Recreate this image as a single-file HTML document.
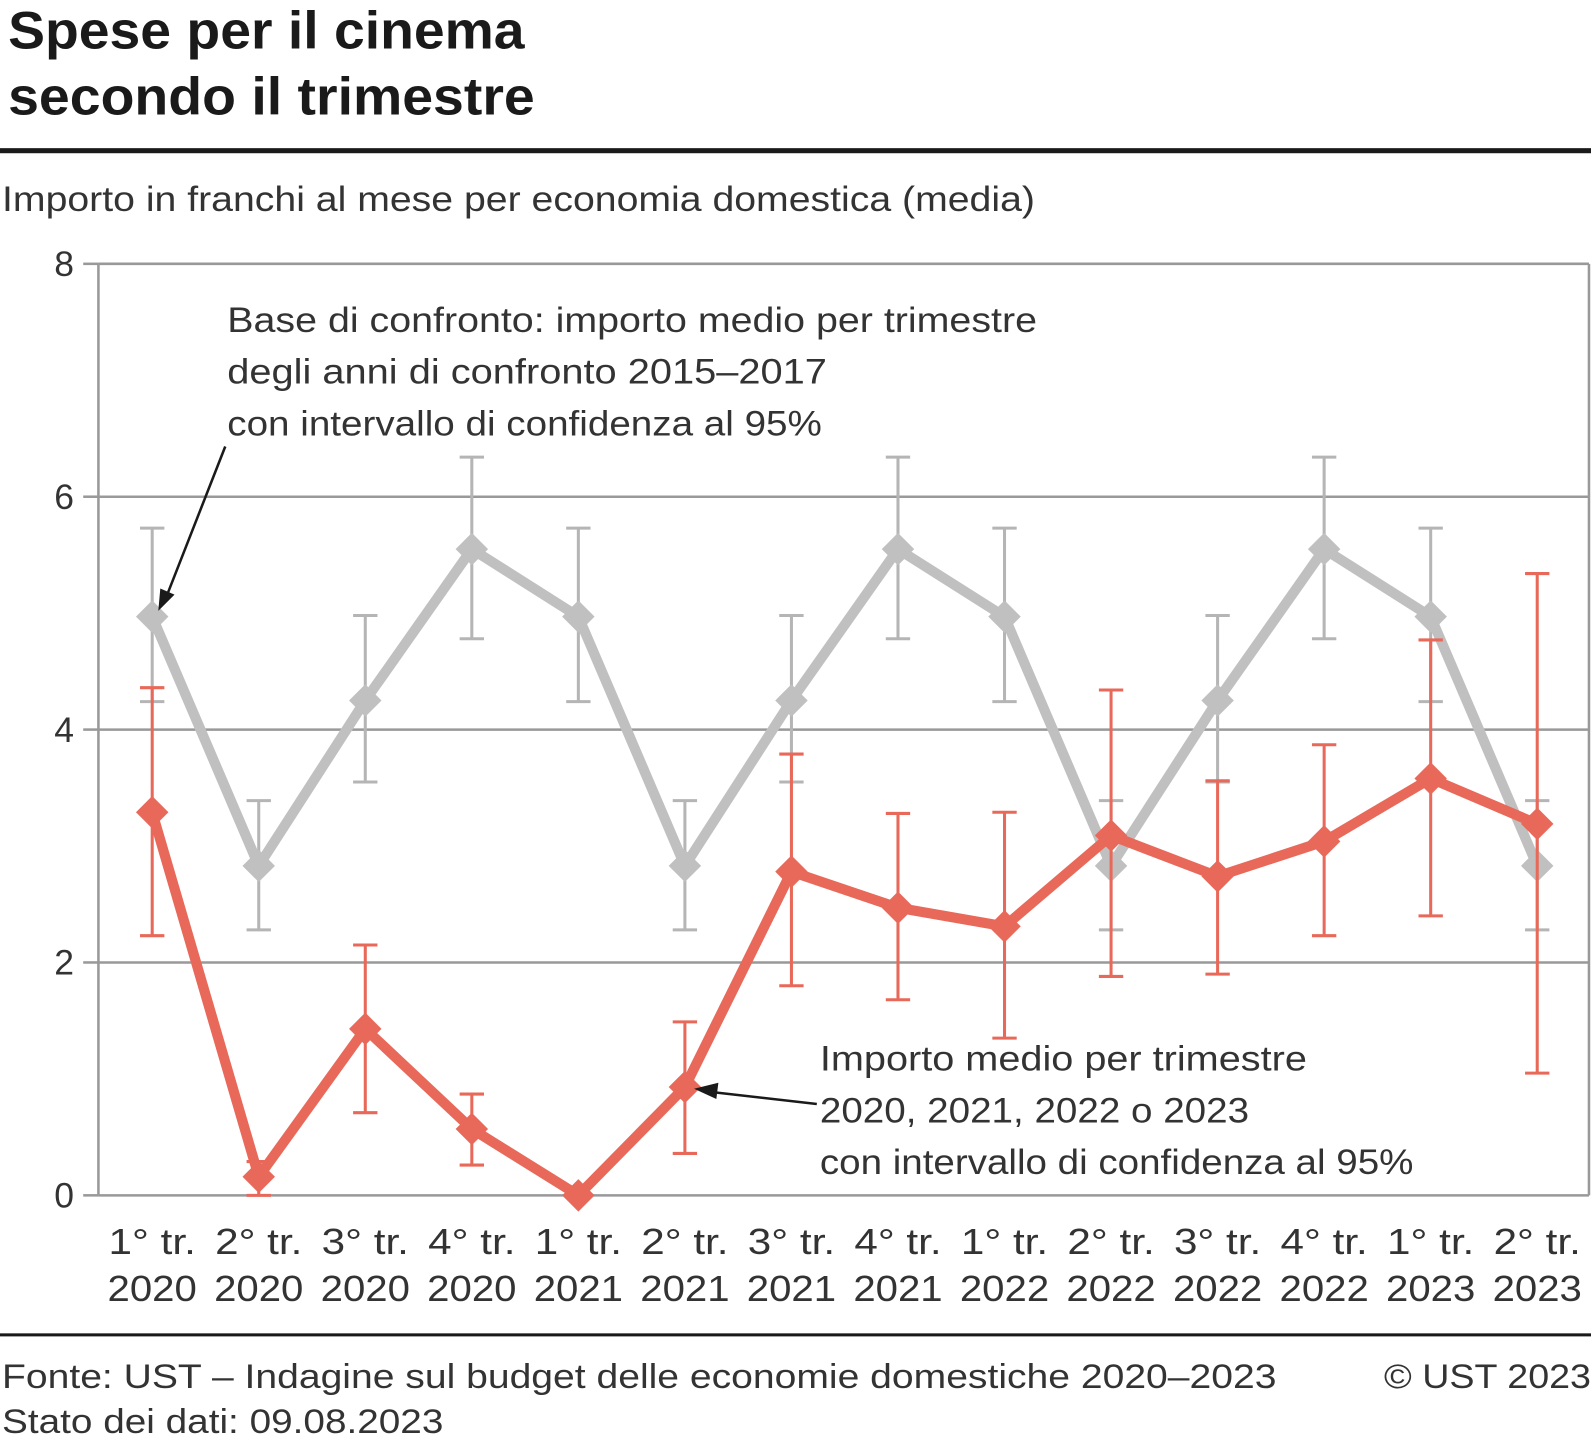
<!DOCTYPE html>
<html><head><meta charset="utf-8">
<style>
html,body{margin:0;padding:0;background:#fff;}
body{width:1591px;height:1447px;overflow:hidden;font-family:"Liberation Sans",sans-serif;}
svg text{font-family:"Liberation Sans",sans-serif;}
</style></head>
<body>
<svg id="chart" width="1591" height="1447" viewBox="0 0 1568 1426" preserveAspectRatio="none" xmlns="http://www.w3.org/2000/svg">
<text x="8" y="48" font-size="52" font-weight="bold" fill="#1a1a1a" textLength="509" lengthAdjust="spacingAndGlyphs">Spese per il cinema</text>
<text x="8" y="113" font-size="52" font-weight="bold" fill="#1a1a1a" textLength="519" lengthAdjust="spacingAndGlyphs">secondo il trimestre</text>
<rect x="0" y="146" width="1568" height="5" fill="#1a1a1a"/>
<text x="2" y="208" font-size="35" fill="#333" textLength="1018" lengthAdjust="spacingAndGlyphs">Importo in franchi al mese per economia domestica (media)</text>
<g id="grid"></g>
<g id="marks"></g>
<g id="annot">
<text font-size="35" fill="#333"><tspan x="224" y="327" textLength="798" lengthAdjust="spacingAndGlyphs">Base di confronto: importo medio per trimestre</tspan><tspan x="224" y="378" textLength="591" lengthAdjust="spacingAndGlyphs">degli anni di confronto 2015–2017</tspan><tspan x="224" y="429" textLength="586" lengthAdjust="spacingAndGlyphs">con intervallo di confidenza al 95%</tspan></text>
<text font-size="35" fill="#333"><tspan x="808" y="1055" textLength="480" lengthAdjust="spacingAndGlyphs">Importo medio per trimestre</tspan><tspan x="808" y="1106" textLength="423" lengthAdjust="spacingAndGlyphs">2020, 2021, 2022 o 2023</tspan><tspan x="808" y="1157" textLength="585" lengthAdjust="spacingAndGlyphs">con intervallo di confidenza al 95%</tspan></text>
<line x1="222" y1="440" x2="164" y2="588" stroke="#1a1a1a" stroke-width="2.5"/>
<polygon points="156,602 158,580 172,586" fill="#1a1a1a"/>
<line x1="805" y1="1088" x2="700" y2="1076" stroke="#1a1a1a" stroke-width="2.5"/>
<polygon points="684,1073 708,1067 706,1083" fill="#1a1a1a"/>
</g>
<rect x="0" y="1314" width="1568" height="3" fill="#1a1a1a"/>
<text x="2" y="1368" font-size="34" fill="#333" textLength="1256" lengthAdjust="spacingAndGlyphs">Fonte: UST – Indagine sul budget delle economie domestiche 2020–2023</text>
<text x="2" y="1412" font-size="34" fill="#333" textLength="435" lengthAdjust="spacingAndGlyphs">Stato dei dati: 09.08.2023</text>
<text x="1364" y="1368" font-size="34" fill="#333" textLength="204" lengthAdjust="spacingAndGlyphs">© UST 2023</text>
</svg>
<script>
const categoriesQ = ["1° tr.","2° tr.","3° tr.","4° tr.","1° tr.","2° tr.","3° tr.","4° tr.","1° tr.","2° tr.","3° tr.","4° tr.","1° tr.","2° tr."];
const categoriesY = ["2020","2020","2020","2020","2021","2021","2021","2021","2022","2022","2022","2022","2023","2023"];
const baseValues = [4.97,2.83,4.25,5.55,4.97,2.83,4.25,5.55,4.97,2.83,4.25,5.55,4.97,2.83];
const baseLow = [4.24,2.28,3.55,4.78,4.24,2.28,3.55,4.78,4.24,2.28,3.55,4.78,4.24,2.28];
const baseHigh = [5.73,3.39,4.98,6.34,5.73,3.39,4.98,6.34,5.73,3.39,4.98,6.34,5.73,3.39];
const curValues = [3.29,0.16,1.43,0.57,0.0,0.93,2.78,2.47,2.31,3.09,2.74,3.04,3.58,3.19];
const curLow = [2.23,0.0,0.71,0.26,0.0,0.36,1.80,1.68,1.35,1.88,1.90,2.23,2.40,1.05];
const curHigh = [4.36,0.29,2.15,0.87,0.0,1.49,3.79,3.28,3.29,4.34,3.56,3.87,4.77,5.34];
const yTicks = [0,2,4,6,8];

const NS="http://www.w3.org/2000/svg";
const x0=150, dx=105, yBase=1178, yScale=114.75, left=97, right=1566;
const X=i=>x0+i*dx;
const Y=v=>yBase-v*yScale;
function mk(tag,attrs,parent){const e=document.createElementNS(NS,tag);for(const k in attrs)e.setAttribute(k,attrs[k]);parent.appendChild(e);return e;}
const grid=document.getElementById('grid'), marks=document.getElementById('marks');
yTicks.forEach(t=>{
  const l=mk('line',{x1:left,x2:right,y1:Y(t),y2:Y(t),stroke:'#999','stroke-width':2.5},grid);
  
  
  const tk=mk('line',{x1:82,x2:left,y1:Y(t),y2:Y(t),stroke:'#999','stroke-width':2.5},grid);
  
  
  const tx=mk('text',{x:73,y:Y(t)+12,'font-size':35,fill:'#333','text-anchor':'end'},grid);
  tx.textContent=t;
  
  
});
const fr=mk('line',{x1:left,x2:left,y1:Y(8),y2:Y(0),stroke:'#999','stroke-width':2.5},grid);


const fr2=mk('line',{x1:right,x2:right,y1:Y(8),y2:Y(0),stroke:'#999','stroke-width':2.5},grid);


categoriesQ.forEach((c,i)=>{
  const t=mk('text',{x:X(i),y:1236,'font-size':36,fill:'#333','text-anchor':'middle',textLength:86,lengthAdjust:'spacingAndGlyphs'},grid);
  t.textContent=c;
  
  
  const t2=mk('text',{x:X(i),y:1282,'font-size':36,fill:'#333','text-anchor':'middle',textLength:88,lengthAdjust:'spacingAndGlyphs'},grid);
  t2.textContent=categoriesY[i];
  
  
});
function series(vals,lo,hi,col,errCol,name){
  const g=mk('g',{},marks);
  
  
  vals.forEach((v,i)=>{
    if(hi[i]-lo[i]<0.01) return;
    const e=mk('path',{d:`M${X(i)},${Y(lo[i])}V${Y(hi[i])}M${X(i)-12},${Y(lo[i])}h24M${X(i)-12},${Y(hi[i])}h24`,stroke:errCol,'stroke-width':3,fill:'none'},g);
    
    
  });
  const p=mk('polyline',{points:vals.map((v,i)=>X(i)+','+Y(v)).join(' '),stroke:col,'stroke-width':10,fill:'none','stroke-linejoin':'round'},g);
  
  
  vals.forEach((v,i)=>{
    const d=mk('polygon',{points:`${X(i)},${Y(v)-16} ${X(i)+16},${Y(v)} ${X(i)},${Y(v)+16} ${X(i)-16},${Y(v)}`,fill:col},g);
    
    
  });
}
series(baseValues,baseLow,baseHigh,'#c0c0c0','#b5b5b5','baseline');
series(curValues,curLow,curHigh,'#e8695a','#e8695a','current');
</script>
</body></html>
